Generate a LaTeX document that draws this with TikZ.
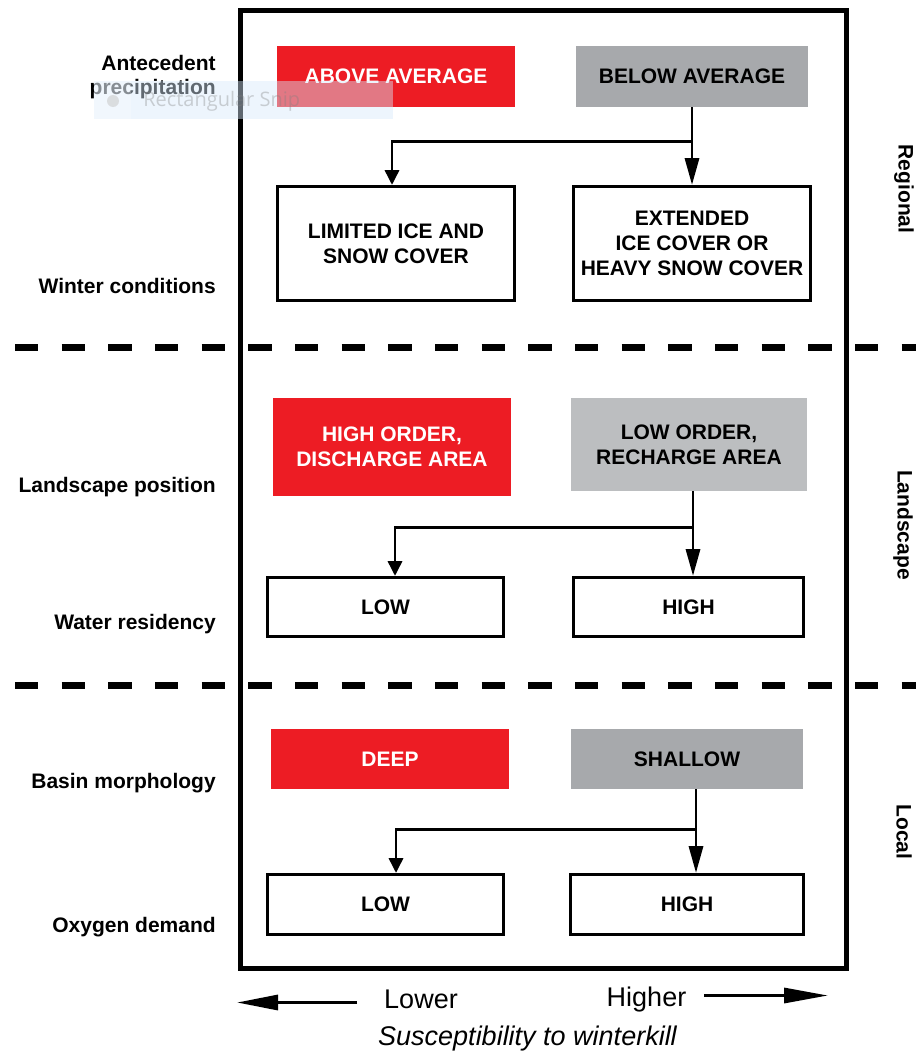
\documentclass[tikz,border=0pt]{standalone}
\usepackage{fontspec}
\setmainfont{Liberation Sans}
\newfontfamily\snipfont{Open Sans}
\usetikzlibrary{arrows.meta,calc}
\definecolor{myred}{HTML}{ED1C24}
\definecolor{mygray}{HTML}{A7A9AC}
\definecolor{mylgray}{HTML}{BCBEC0}
\definecolor{snipblue}{HTML}{D6E8FA}
\newcommand{\boxfont}{\fontsize{15.75}{18.75}\selectfont\bfseries}
\newcommand{\axisfont}{\fontsize{20.25}{24}\selectfont}
\begin{document}
\begin{tikzpicture}[x=0.75pt,y=-0.75pt,
  box/.style={inner sep=0pt, align=center, font=\boxfont},
  redbox/.style={box, fill=myred, text=white},
  graybox/.style={box, fill=mygray},
  lgraybox/.style={box, fill=mylgray},
  whitebox/.style={box, draw=black, line width=2.4pt, fill=white},
  lbl/.style={inner sep=0pt, font=\boxfont},
  conn/.style={line width=2.2pt},
  bigtip/.style={-{Triangle[length=20pt,width=10.5pt]}},
  smalltip/.style={-{Triangle[length=11pt,width=10.5pt]}},
  divider/.style={line width=5.25pt, dash pattern=on 17.5pt off 17.5pt},
  frame/.style={line width=3.75pt}
]
\useasboundingbox (0,0) rectangle (916,1053);

% main frame
\draw[frame] (240,10.5) rectangle (846.5,968);

% dividers
\draw[divider] (15,347) -- (916,347);
\draw[divider] (15,685) -- (916,685);

% ---------- Regional ----------
\node[redbox, minimum width=178.5pt, minimum height=45.75pt] (above) at (396,76.5) {ABOVE AVERAGE};
\node[graybox, minimum width=174pt, minimum height=45.75pt] (below) at (692,76.5) {BELOW AVERAGE};
\node[whitebox, minimum width=177.75pt, minimum height=85.5pt] (limited) at (396,243.5) {LIMITED ICE AND\\SNOW COVER};
\node[whitebox, minimum width=177.75pt, minimum height=85.5pt] (extended) at (692,243.5) {EXTENDED\\ICE COVER OR\\HEAVY SNOW COVER};
\draw[conn,bigtip] (below.south) -- (extended.north);
\draw[conn,smalltip] (below.south) -- ++(0,34) -| ($(limited.north)+(-4,0)$);

% ---------- Landscape ----------
\node[redbox, minimum width=178.5pt, minimum height=73.5pt] (highorder) at (392,447) {HIGH ORDER,\\DISCHARGE AREA};
\node[lgraybox, minimum width=177pt, minimum height=69.75pt] (loworder) at (689,444.5) {LOW ORDER,\\RECHARGE AREA};
\node[whitebox, minimum width=177pt, minimum height=44.25pt] (low1) at (385.5,607) {LOW};
\node[whitebox, minimum width=172.5pt, minimum height=44.25pt] (high1) at (688.5,607) {HIGH};
\draw[conn,bigtip] ($(loworder.south)+(4,0)$) -- ($(high1.north)+(4.5,0)$);
\draw[conn,smalltip] ($(loworder.south)+(4,0)$) -- ++(0,36) -| ($(low1.north)+(9.5,0)$);

% ---------- Local ----------
\node[redbox, minimum width=178.5pt, minimum height=45pt] (deep) at (390,759) {DEEP};
\node[graybox, minimum width=174pt, minimum height=45pt] (shallow) at (687,759) {SHALLOW};
\node[whitebox, minimum width=177pt, minimum height=45pt] (low2) at (385.5,904.5) {LOW};
\node[whitebox, minimum width=174.75pt, minimum height=45pt] (high2) at (687,904.5) {HIGH};
\draw[conn,bigtip] ($(shallow.south)+(9,0)$) -- ($(high2.north)+(9,0)$);
\draw[conn,smalltip] ($(shallow.south)+(9,0)$) -- ++(0,40) -| ($(low2.north)+(10.5,0)$);

% ---------- left labels ----------
\node[lbl, anchor=base east] (ante) at (216,70) {Antecedent};
\node[lbl, anchor=base east] (precip) at (216,94.5) {precipitation};
\node[lbl, anchor=base east] (winter) at (216,293) {Winter conditions};
\node[lbl, anchor=base east] (landpos) at (216,492) {Landscape position};
\node[lbl, anchor=base east] (water) at (216,629) {Water residency};
\node[lbl, anchor=base east] (basin) at (216,788) {Basin morphology};
\node[lbl, anchor=base east] (oxygen) at (216,932) {Oxygen demand};

% ---------- right labels ----------
\node[lbl, rotate=-90] (regional) at (904,189) {Regional};
\node[lbl, rotate=-90] (landscape) at (903,525) {Landscape};
\node[lbl, rotate=-90] (local) at (904,832) {Local};

% ---------- bottom axis ----------
\node[inner sep=0pt, font=\axisfont, anchor=base] (lower) at (421,1008) {Lower};
\node[inner sep=0pt, font=\axisfont, anchor=base] (higher) at (646.5,1006) {Higher};
\node[inner sep=0pt, font=\axisfont\itshape, anchor=base] (suscept) at (527.5,1045) {Susceptibility to winterkill};
\coordinate (ltail) at (357,1002.5);
\coordinate (ltip) at (237,1002.5);
\coordinate (rtail) at (704,995.5);
\coordinate (rtip) at (828,995.5);
\draw[line width=2.4pt, -{Triangle[length=30.75pt,width=11.25pt]}] (ltail) -- (ltip);
\draw[line width=2.4pt, -{Triangle[length=33pt,width=11.25pt]}] (rtail) -- (rtip);

% ---------- screen-snip overlay ----------
\fill[snipblue, fill opacity=0.45] (94,81) rectangle (393,119);
\fill[white, fill opacity=0.25] (94,81) rectangle (131,119);
\fill[gray!40, fill opacity=0.6] (113,101) circle (4.5pt);
\node[inner sep=0pt, anchor=west, text=gray, text opacity=0.35, font=\snipfont\fontsize{15}{18}\selectfont] (snip) at (143,101) {Rectangular Snip};
\end{tikzpicture}
\end{document}
